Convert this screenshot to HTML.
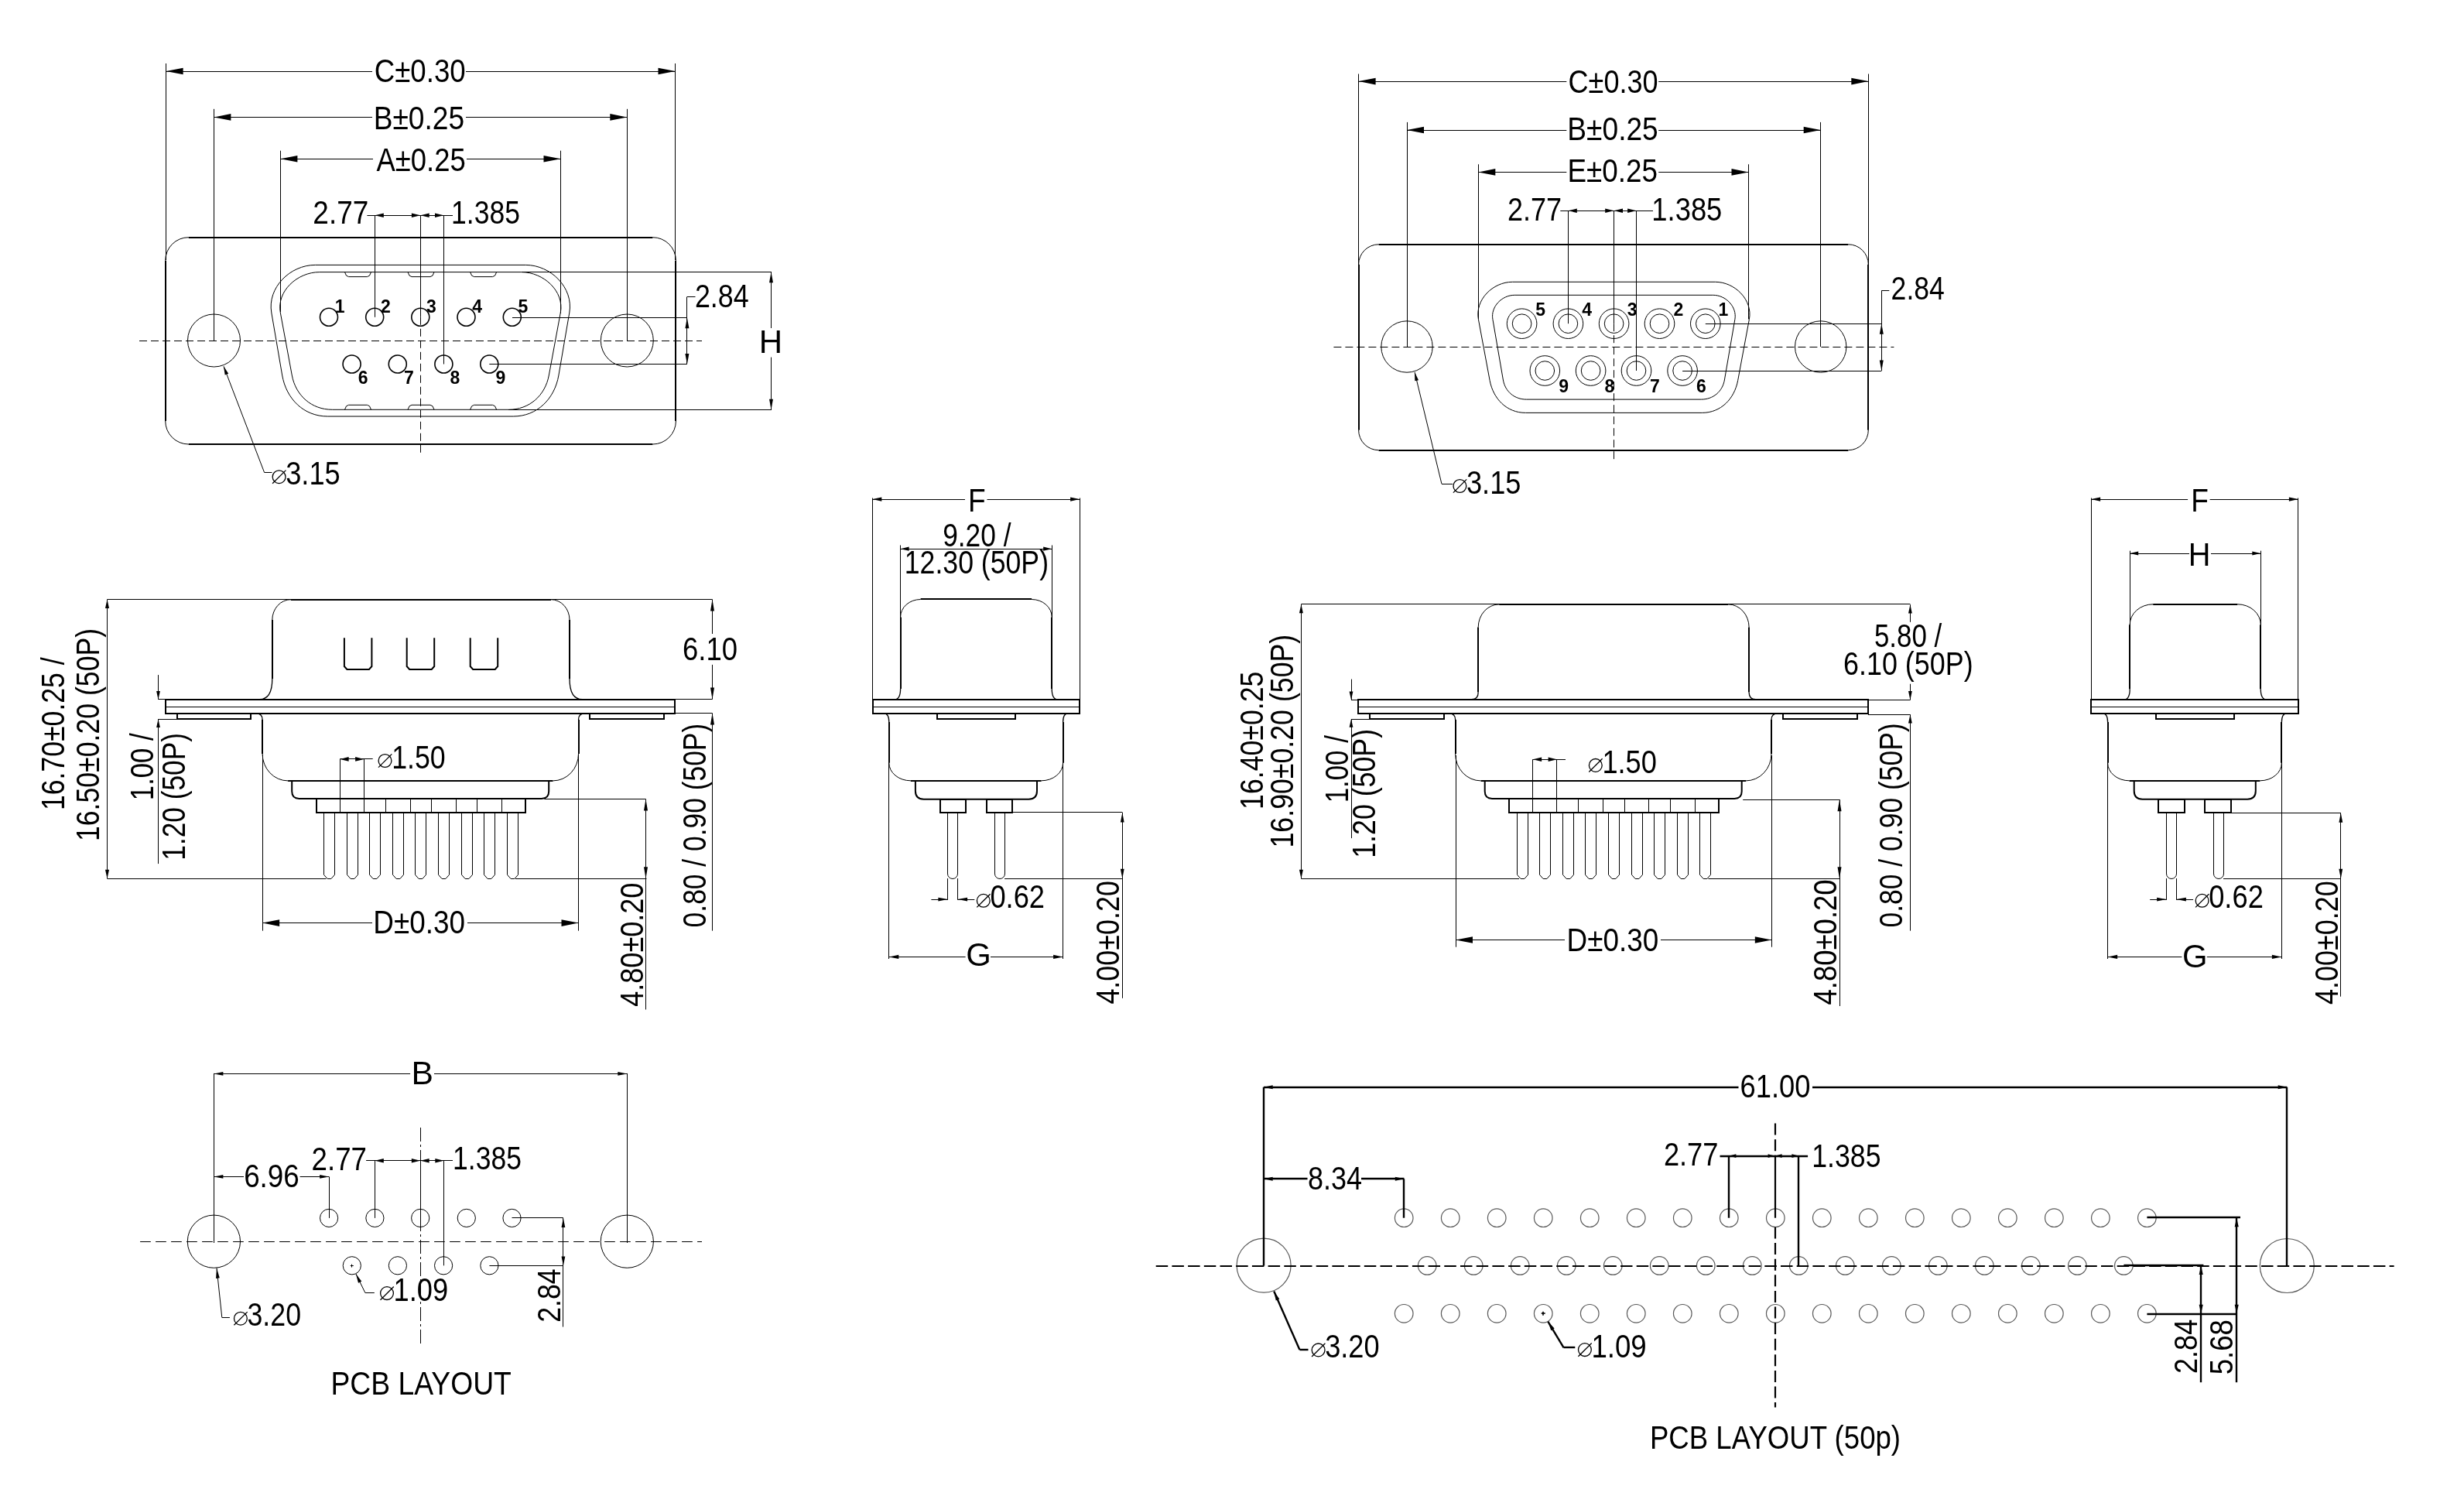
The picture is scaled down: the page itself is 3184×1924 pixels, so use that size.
<!DOCTYPE html><html><head><meta charset="utf-8"><style>html,body{margin:0;padding:0;background:#fff;}svg{display:block;will-change:transform;} text{font-family:"Liberation Sans",sans-serif;fill:#000;}</style></head><body><svg width="3184" height="1924" viewBox="0 0 3184 1924"><rect width="3184" height="1924" fill="#fff"/><line x1="214.5" y1="82" x2="214.5" y2="336" stroke="#000" stroke-width="1.0"/>
<line x1="872.5" y1="82" x2="872.5" y2="336" stroke="#000" stroke-width="1.0"/>
<line x1="214.6" y1="92.5" x2="481" y2="92.5" stroke="#000" stroke-width="1.0"/>
<line x1="602" y1="92.5" x2="872.5" y2="92.5" stroke="#000" stroke-width="1.0"/>
<path d="M214.6 92 L236.6 87.7 L236.6 96.3 Z" fill="#000"/>
<path d="M872.5 92 L850.5 96.3 L850.5 87.7 Z" fill="#000"/>
<text x="483.84" y="105.5" font-size="42" textLength="117.79" lengthAdjust="spacingAndGlyphs">C±0.30</text>
<line x1="276.5" y1="140.8" x2="276.5" y2="440" stroke="#000" stroke-width="1.0"/>
<line x1="810.5" y1="140.8" x2="810.5" y2="440" stroke="#000" stroke-width="1.0"/>
<line x1="276.4" y1="151.5" x2="481" y2="151.5" stroke="#000" stroke-width="1.0"/>
<line x1="602" y1="151.5" x2="810.3" y2="151.5" stroke="#000" stroke-width="1.0"/>
<path d="M276.4 151.4 L298.4 147.1 L298.4 155.7 Z" fill="#000"/>
<path d="M810.3 151.4 L788.3 155.7 L788.3 147.1 Z" fill="#000"/>
<text x="482.65" y="166.5" font-size="42" textLength="117.51" lengthAdjust="spacingAndGlyphs">B±0.25</text>
<line x1="362.5" y1="194.7" x2="362.5" y2="403" stroke="#000" stroke-width="1.0"/>
<line x1="724.5" y1="194.7" x2="724.5" y2="405" stroke="#000" stroke-width="1.0"/>
<line x1="362.4" y1="205.5" x2="482" y2="205.5" stroke="#000" stroke-width="1.0"/>
<line x1="603" y1="205.5" x2="724.5" y2="205.5" stroke="#000" stroke-width="1.0"/>
<path d="M362.4 205.3 L384.4 201 L384.4 209.6 Z" fill="#000"/>
<path d="M724.5 205.3 L702.5 209.6 L702.5 201 Z" fill="#000"/>
<text x="486.53" y="220.9" font-size="42" textLength="115.2" lengthAdjust="spacingAndGlyphs">A±0.25</text>
<text x="404.34" y="288.9" font-size="42" textLength="71.92" lengthAdjust="spacingAndGlyphs">2.77</text>
<text x="583.09" y="288.8" font-size="42" textLength="88.9" lengthAdjust="spacingAndGlyphs">1.385</text>
<line x1="474.4" y1="278.5" x2="585" y2="278.5" stroke="#000" stroke-width="1.0"/>
<line x1="484.5" y1="278.3" x2="484.5" y2="409.8" stroke="#000" stroke-width="1.0"/>
<line x1="543.5" y1="278.3" x2="543.5" y2="409.8" stroke="#000" stroke-width="1.0"/>
<line x1="573.5" y1="278.3" x2="573.5" y2="470.5" stroke="#000" stroke-width="1.0"/>
<path d="M484.4 278.3 L495.8 275.6 L495.8 281 Z" fill="#000"/>
<path d="M543.3 278.3 L531.9 281 L531.9 275.6 Z" fill="#000"/>
<path d="M543.3 278.3 L554.7 275.6 L554.7 281 Z" fill="#000"/>
<path d="M573.4 278.3 L562 281 L562 275.6 Z" fill="#000"/>
<line x1="243.7" y1="307" x2="843.4" y2="307" stroke="#000" stroke-width="2.0"/>
<line x1="243.7" y1="574" x2="843.4" y2="574" stroke="#000" stroke-width="2.0"/>
<line x1="214" y1="336.7" x2="214" y2="544" stroke="#000" stroke-width="2.0"/>
<line x1="873" y1="336.7" x2="873" y2="544" stroke="#000" stroke-width="2.0"/>
<path d="M213.7 336.7 A30 30 0 0 1 243.7 306.7" fill="none" stroke="#000" stroke-width="1.0"/>
<path d="M843.4 306.7 A30 30 0 0 1 873.4 336.7" fill="none" stroke="#000" stroke-width="1.0"/>
<path d="M873.4 544 A30 30 0 0 1 843.4 574" fill="none" stroke="#000" stroke-width="1.0"/>
<path d="M243.7 574 A30 30 0 0 1 213.7 544" fill="none" stroke="#000" stroke-width="1.0"/>
<circle cx="276.5" cy="440" r="34" fill="none" stroke="#000" stroke-width="1.0"/>
<circle cx="810.3" cy="440" r="34" fill="none" stroke="#000" stroke-width="1.0"/>
<line x1="180" y1="440.5" x2="907" y2="440.5" stroke="#000" stroke-width="1.0" stroke-dasharray="10 5"/>
<line x1="543.5" y1="409.8" x2="543.5" y2="588" stroke="#000" stroke-width="1.0" stroke-dasharray="10 5"/>
<path d="M407.3 342.4 L679.3 342.4 C711.9 342.4 741.31 371.87 735.8 404 L721.9 485 C716.69 515.37 694.11 538 663.3 538 L423.3 538 C392.49 538 369.91 515.37 364.7 485 L350.8 404 C345.29 371.87 374.7 342.4 407.3 342.4 Z" fill="none" stroke="#000" stroke-width="1.0"/>
<path d="M412.8 351.6 L673.8 351.6 C702.18 351.6 729.47 376.09 724.3 404 L709.3 485 C704.45 511.2 683.94 529.3 657.3 529.3 L429.3 529.3 C402.66 529.3 382.15 511.2 377.3 485 L362.3 404 C357.13 376.09 384.42 351.6 412.8 351.6 Z" fill="none" stroke="#000" stroke-width="1.0"/>
<path d="M445.5 351.6 Q447 357.6 450.5 357.6 L474.5 357.6 Q478 357.6 479.5 351.6" fill="none" stroke="#000" stroke-width="1.0"/>
<path d="M445.5 529.3 Q447 523.3 450.5 523.3 L474.5 523.3 Q478 523.3 479.5 529.3" fill="none" stroke="#000" stroke-width="1.0"/>
<path d="M527 351.6 Q528.5 357.6 532 357.6 L556 357.6 Q559.5 357.6 561 351.6" fill="none" stroke="#000" stroke-width="1.0"/>
<path d="M527 529.3 Q528.5 523.3 532 523.3 L556 523.3 Q559.5 523.3 561 529.3" fill="none" stroke="#000" stroke-width="1.0"/>
<path d="M607.6 351.6 Q609.1 357.6 612.6 357.6 L636.6 357.6 Q640.1 357.6 641.6 351.6" fill="none" stroke="#000" stroke-width="1.0"/>
<path d="M607.6 529.3 Q609.1 523.3 612.6 523.3 L636.6 523.3 Q640.1 523.3 641.6 529.3" fill="none" stroke="#000" stroke-width="1.0"/>
<circle cx="425" cy="409.8" r="11.5" fill="none" stroke="#000" stroke-width="1.6"/>
<text x="439.2" y="404" font-size="23" font-weight="bold" text-anchor="middle">1</text>
<circle cx="484.2" cy="409.8" r="11.5" fill="none" stroke="#000" stroke-width="1.6"/>
<text x="498.4" y="404" font-size="23" font-weight="bold" text-anchor="middle">2</text>
<circle cx="543.3" cy="409.8" r="11.5" fill="none" stroke="#000" stroke-width="1.6"/>
<text x="557.5" y="404" font-size="23" font-weight="bold" text-anchor="middle">3</text>
<circle cx="602.5" cy="409.8" r="11.5" fill="none" stroke="#000" stroke-width="1.6"/>
<text x="616.7" y="404" font-size="23" font-weight="bold" text-anchor="middle">4</text>
<circle cx="661.8" cy="409.8" r="11.5" fill="none" stroke="#000" stroke-width="1.6"/>
<text x="676" y="404" font-size="23" font-weight="bold" text-anchor="middle">5</text>
<circle cx="454.6" cy="470.5" r="11.5" fill="none" stroke="#000" stroke-width="1.6"/>
<text x="469.2" y="495.6" font-size="23" font-weight="bold" text-anchor="middle">6</text>
<circle cx="513.8" cy="470.5" r="11.5" fill="none" stroke="#000" stroke-width="1.6"/>
<text x="528.4" y="495.6" font-size="23" font-weight="bold" text-anchor="middle">7</text>
<circle cx="573.4" cy="470.5" r="11.5" fill="none" stroke="#000" stroke-width="1.6"/>
<text x="588" y="495.6" font-size="23" font-weight="bold" text-anchor="middle">8</text>
<circle cx="632.3" cy="470.5" r="11.5" fill="none" stroke="#000" stroke-width="1.6"/>
<text x="646.9" y="495.6" font-size="23" font-weight="bold" text-anchor="middle">9</text>
<line x1="674" y1="351.5" x2="997" y2="351.5" stroke="#000" stroke-width="1.0"/>
<line x1="657" y1="529.5" x2="997" y2="529.5" stroke="#000" stroke-width="1.0"/>
<line x1="996.5" y1="351.6" x2="996.5" y2="424" stroke="#000" stroke-width="1.0"/>
<line x1="996.5" y1="461.6" x2="996.5" y2="529.3" stroke="#000" stroke-width="1.0"/>
<path d="M996.5 351.6 L999 365.2 L994 365.2 Z" fill="#000"/>
<path d="M996.5 529.3 L994 515.7 L999 515.7 Z" fill="#000"/>
<text x="980.85" y="455.7" font-size="42" textLength="30.38" lengthAdjust="spacingAndGlyphs">H</text>
<line x1="662" y1="410.5" x2="887.9" y2="410.5" stroke="#000" stroke-width="1.0"/>
<line x1="632.3" y1="470.5" x2="887.9" y2="470.5" stroke="#000" stroke-width="1.0"/>
<line x1="887.5" y1="383.5" x2="887.5" y2="470.5" stroke="#000" stroke-width="1.0"/>
<line x1="887.9" y1="383.5" x2="898.5" y2="383.5" stroke="#000" stroke-width="1.0"/>
<path d="M887.9 410.6 L890.4 424.2 L885.4 424.2 Z" fill="#000"/>
<path d="M887.9 470.5 L885.4 456.9 L890.4 456.9 Z" fill="#000"/>
<text x="897.9" y="397" font-size="42" textLength="69.75" lengthAdjust="spacingAndGlyphs">2.84</text>
<line x1="289" y1="473.3" x2="341.5" y2="610.3" stroke="#000" stroke-width="1.0"/>
<line x1="341.5" y1="610.5" x2="351.5" y2="610.5" stroke="#000" stroke-width="1.0"/>
<path d="M289 473.3 L295.18 482.71 L290.7 484.43 Z" fill="#000"/>
<circle cx="360.6" cy="616.2" r="8.4" fill="none" stroke="#000" stroke-width="1.3"/>
<line x1="352.1" y1="624.8" x2="369.4" y2="607.6" stroke="#000" stroke-width="1.3"/>
<text x="369.2" y="625.8" font-size="42" textLength="70.53" lengthAdjust="spacingAndGlyphs">3.15</text>
<line x1="1755.5" y1="95.5" x2="1755.5" y2="345" stroke="#000" stroke-width="1.0"/>
<line x1="2414.5" y1="95.5" x2="2414.5" y2="345" stroke="#000" stroke-width="1.0"/>
<line x1="1755.6" y1="105.5" x2="2024.3" y2="105.5" stroke="#000" stroke-width="1.0"/>
<line x1="2143.2" y1="105.5" x2="2414.3" y2="105.5" stroke="#000" stroke-width="1.0"/>
<path d="M1755.6 105.1 L1777.6 100.8 L1777.6 109.4 Z" fill="#000"/>
<path d="M2414.3 105.1 L2392.3 109.4 L2392.3 100.8 Z" fill="#000"/>
<text x="2026.57" y="119.6" font-size="42" textLength="116.04" lengthAdjust="spacingAndGlyphs">C±0.30</text>
<line x1="1818.5" y1="157.9" x2="1818.5" y2="448" stroke="#000" stroke-width="1.0"/>
<line x1="2352.5" y1="157.9" x2="2352.5" y2="448" stroke="#000" stroke-width="1.0"/>
<line x1="1818" y1="168.5" x2="2024.3" y2="168.5" stroke="#000" stroke-width="1.0"/>
<line x1="2143.2" y1="168.5" x2="2352.7" y2="168.5" stroke="#000" stroke-width="1.0"/>
<path d="M1818 168 L1840 163.7 L1840 172.3 Z" fill="#000"/>
<path d="M2352.7 168 L2330.7 172.3 L2330.7 163.7 Z" fill="#000"/>
<text x="2025.35" y="180.9" font-size="42" textLength="117.4" lengthAdjust="spacingAndGlyphs">B±0.25</text>
<line x1="1910.5" y1="212.3" x2="1910.5" y2="412.5" stroke="#000" stroke-width="1.0"/>
<line x1="2259.5" y1="212.3" x2="2259.5" y2="412.5" stroke="#000" stroke-width="1.0"/>
<line x1="1910.3" y1="222.5" x2="2024.3" y2="222.5" stroke="#000" stroke-width="1.0"/>
<line x1="2143.2" y1="222.5" x2="2259.5" y2="222.5" stroke="#000" stroke-width="1.0"/>
<path d="M1910.3 222.4 L1932.3 218.1 L1932.3 226.7 Z" fill="#000"/>
<path d="M2259.5 222.4 L2237.5 226.7 L2237.5 218.1 Z" fill="#000"/>
<text x="2025.38" y="235.3" font-size="42" textLength="116.57" lengthAdjust="spacingAndGlyphs">E±0.25</text>
<text x="1947.99" y="284.8" font-size="42" textLength="70.12" lengthAdjust="spacingAndGlyphs">2.77</text>
<text x="2134.33" y="284.8" font-size="42" textLength="91" lengthAdjust="spacingAndGlyphs">1.385</text>
<line x1="2016.3" y1="272.5" x2="2136" y2="272.5" stroke="#000" stroke-width="1.0"/>
<line x1="2026.5" y1="272.3" x2="2026.5" y2="418.2" stroke="#000" stroke-width="1.0"/>
<line x1="2085.5" y1="272.3" x2="2085.5" y2="418.2" stroke="#000" stroke-width="1.0"/>
<line x1="2114.5" y1="272.3" x2="2114.5" y2="479" stroke="#000" stroke-width="1.0"/>
<path d="M2026.4 272.3 L2037.8 269.6 L2037.8 275 Z" fill="#000"/>
<path d="M2085.6 272.3 L2074.2 275 L2074.2 269.6 Z" fill="#000"/>
<path d="M2085.6 272.3 L2097 269.6 L2097 275 Z" fill="#000"/>
<path d="M2114.5 272.3 L2103.1 275 L2103.1 269.6 Z" fill="#000"/>
<line x1="1781.6" y1="316" x2="2388.3" y2="316" stroke="#000" stroke-width="2.0"/>
<line x1="1781.6" y1="582" x2="2388.3" y2="582" stroke="#000" stroke-width="2.0"/>
<line x1="1756" y1="341.8" x2="1756" y2="555.7" stroke="#000" stroke-width="2.0"/>
<line x1="2414" y1="341.8" x2="2414" y2="555.7" stroke="#000" stroke-width="2.0"/>
<path d="M1755.6 341.8 A26 26 0 0 1 1781.6 315.8" fill="none" stroke="#000" stroke-width="1.0"/>
<path d="M2388.3 315.8 A26 26 0 0 1 2414.3 341.8" fill="none" stroke="#000" stroke-width="1.0"/>
<path d="M2414.3 555.7 A26 26 0 0 1 2388.3 581.7" fill="none" stroke="#000" stroke-width="1.0"/>
<path d="M1781.6 581.7 A26 26 0 0 1 1755.6 555.7" fill="none" stroke="#000" stroke-width="1.0"/>
<circle cx="1818" cy="448" r="33.2" fill="none" stroke="#000" stroke-width="1.0"/>
<circle cx="2352.7" cy="448" r="33.2" fill="none" stroke="#000" stroke-width="1.0"/>
<line x1="1723.4" y1="448.5" x2="2447.4" y2="448.5" stroke="#000" stroke-width="1.0" stroke-dasharray="10 5"/>
<line x1="2085.5" y1="418.2" x2="2085.5" y2="595.8" stroke="#000" stroke-width="1.0" stroke-dasharray="10 5"/>
<path d="M1954.4 364.3 L2216.4 364.3 C2241.85 364.3 2265.06 387.48 2260.4 412.5 L2245.7 491.5 C2241.24 515.44 2223.75 533.4 2199.4 533.4 L1971.4 533.4 C1947.05 533.4 1929.56 515.44 1925.1 491.5 L1910.4 412.5 C1905.74 387.48 1928.95 364.3 1954.4 364.3 Z" fill="none" stroke="#000" stroke-width="1.0"/>
<path d="M1957.2 381.3 L2213.6 381.3 C2230.03 381.3 2244.68 396.31 2241.9 412.5 L2228.4 491 C2225.81 506.03 2213.65 516.1 2198.4 516.1 L1972.4 516.1 C1957.15 516.1 1944.99 506.03 1942.4 491 L1928.9 412.5 C1926.12 396.31 1940.77 381.3 1957.2 381.3 Z" fill="none" stroke="#000" stroke-width="1.0"/>
<circle cx="1966.6" cy="418.2" r="19.3" fill="none" stroke="#000" stroke-width="1.0"/>
<circle cx="1966.6" cy="418.2" r="12.3" fill="none" stroke="#000" stroke-width="1.0"/>
<text x="1990.6" y="408.4" font-size="23" font-weight="bold" text-anchor="middle">5</text>
<circle cx="2026.4" cy="418.2" r="19.3" fill="none" stroke="#000" stroke-width="1.0"/>
<circle cx="2026.4" cy="418.2" r="12.3" fill="none" stroke="#000" stroke-width="1.0"/>
<text x="2050.7" y="408.4" font-size="23" font-weight="bold" text-anchor="middle">4</text>
<circle cx="2085.6" cy="418.2" r="19.3" fill="none" stroke="#000" stroke-width="1.0"/>
<circle cx="2085.6" cy="418.2" r="12.3" fill="none" stroke="#000" stroke-width="1.0"/>
<text x="2109.2" y="408.4" font-size="23" font-weight="bold" text-anchor="middle">3</text>
<circle cx="2144.5" cy="418.2" r="19.3" fill="none" stroke="#000" stroke-width="1.0"/>
<circle cx="2144.5" cy="418.2" r="12.3" fill="none" stroke="#000" stroke-width="1.0"/>
<text x="2168.9" y="408.4" font-size="23" font-weight="bold" text-anchor="middle">2</text>
<circle cx="2203.8" cy="418.2" r="19.3" fill="none" stroke="#000" stroke-width="1.0"/>
<circle cx="2203.8" cy="418.2" r="12.3" fill="none" stroke="#000" stroke-width="1.0"/>
<text x="2226.9" y="408.4" font-size="23" font-weight="bold" text-anchor="middle">1</text>
<circle cx="1996.3" cy="479" r="19.3" fill="none" stroke="#000" stroke-width="1.0"/>
<circle cx="1996.3" cy="479" r="12.3" fill="none" stroke="#000" stroke-width="1.0"/>
<text x="2020.7" y="507.1" font-size="23" font-weight="bold" text-anchor="middle">9</text>
<circle cx="2055.6" cy="479" r="19.3" fill="none" stroke="#000" stroke-width="1.0"/>
<circle cx="2055.6" cy="479" r="12.3" fill="none" stroke="#000" stroke-width="1.0"/>
<text x="2079.9" y="507.1" font-size="23" font-weight="bold" text-anchor="middle">8</text>
<circle cx="2114.5" cy="479" r="19.3" fill="none" stroke="#000" stroke-width="1.0"/>
<circle cx="2114.5" cy="479" r="12.3" fill="none" stroke="#000" stroke-width="1.0"/>
<text x="2138.4" y="507.1" font-size="23" font-weight="bold" text-anchor="middle">7</text>
<circle cx="2174.1" cy="479" r="19.3" fill="none" stroke="#000" stroke-width="1.0"/>
<circle cx="2174.1" cy="479" r="12.3" fill="none" stroke="#000" stroke-width="1.0"/>
<text x="2198.4" y="507.1" font-size="23" font-weight="bold" text-anchor="middle">6</text>
<line x1="2203.8" y1="418.5" x2="2431.3" y2="418.5" stroke="#000" stroke-width="1.0"/>
<line x1="2174.1" y1="479.5" x2="2431.3" y2="479.5" stroke="#000" stroke-width="1.0"/>
<line x1="2431.5" y1="375.5" x2="2431.5" y2="479" stroke="#000" stroke-width="1.0"/>
<line x1="2431.3" y1="375.5" x2="2441.3" y2="375.5" stroke="#000" stroke-width="1.0"/>
<path d="M2431.3 418.2 L2433.8 431.8 L2428.8 431.8 Z" fill="#000"/>
<path d="M2431.3 479 L2428.8 465.4 L2433.8 465.4 Z" fill="#000"/>
<text x="2443.61" y="387.2" font-size="42" textLength="69.23" lengthAdjust="spacingAndGlyphs">2.84</text>
<line x1="1828.1" y1="481" x2="1862.9" y2="625" stroke="#000" stroke-width="1.0"/>
<line x1="1862.9" y1="625.5" x2="1877.3" y2="625.5" stroke="#000" stroke-width="1.0"/>
<path d="M1828.1 481 L1833.02 491.13 L1828.35 492.26 Z" fill="#000"/>
<circle cx="1886.4" cy="628" r="8.4" fill="none" stroke="#000" stroke-width="1.3"/>
<line x1="1877.9" y1="636.6" x2="1895.2" y2="619.4" stroke="#000" stroke-width="1.3"/>
<text x="1895" y="637.6" font-size="42" textLength="70.42" lengthAdjust="spacingAndGlyphs">3.15</text>
<rect x="214" y="904" width="658" height="18" fill="none" stroke="#000" stroke-width="2.0"/>
<line x1="213.8" y1="913.5" x2="872.5" y2="913.5" stroke="#000" stroke-width="1.0"/>
<rect x="229" y="922" width="95" height="7" fill="none" stroke="#000" stroke-width="2.0"/>
<rect x="762" y="922" width="96" height="7" fill="none" stroke="#000" stroke-width="2.0"/>
<line x1="375.8" y1="775" x2="712" y2="775" stroke="#000" stroke-width="2.0"/>
<line x1="352" y1="801.1" x2="352" y2="877" stroke="#000" stroke-width="2.0"/>
<line x1="736" y1="801.1" x2="736" y2="877" stroke="#000" stroke-width="2.0"/>
<path d="M351.8 801.1 A24 26.4 0 0 1 375.8 774.7" fill="none" stroke="#000" stroke-width="1.0"/>
<path d="M712 774.7 A24 26.4 0 0 1 736 801.1" fill="none" stroke="#000" stroke-width="1.0"/>
<path d="M351.8 877 Q351.8 903.7 335.3 903.7" fill="none" stroke="#000" stroke-width="1.3"/>
<path d="M736 877 Q736 903.7 752.5 903.7" fill="none" stroke="#000" stroke-width="1.3"/>
<path d="M331.1 921.8 Q339.1 921.8 339.1 930" fill="none" stroke="#000" stroke-width="1.3"/>
<path d="M755.5 921.8 Q747.5 921.8 747.5 930" fill="none" stroke="#000" stroke-width="1.3"/>
<line x1="339" y1="930" x2="339" y2="973.9" stroke="#000" stroke-width="2.0"/>
<line x1="748" y1="930" x2="748" y2="973.9" stroke="#000" stroke-width="2.0"/>
<line x1="372.1" y1="1009" x2="714.5" y2="1009" stroke="#000" stroke-width="2.0"/>
<path d="M339.1 973.9 A33 35 0 0 0 372.1 1008.9" fill="none" stroke="#000" stroke-width="1.0"/>
<path d="M714.5 1008.9 A33 35 0 0 0 747.5 973.9" fill="none" stroke="#000" stroke-width="1.0"/>
<path d="M377.2 1008.9 L377.2 1022.5 Q377.2 1031.9 386.6 1031.9 L699.8 1031.9 Q709.2 1031.9 709.2 1022.5 L709.2 1008.9" fill="none" stroke="#000" stroke-width="2.0"/>
<rect x="409" y="1032" width="270" height="18" fill="none" stroke="#000" stroke-width="2.0"/>
<line x1="498.5" y1="1031.9" x2="498.5" y2="1050.1" stroke="#000" stroke-width="1.0"/>
<line x1="530.5" y1="1031.9" x2="530.5" y2="1050.1" stroke="#000" stroke-width="1.0"/>
<line x1="557.5" y1="1031.9" x2="557.5" y2="1050.1" stroke="#000" stroke-width="1.0"/>
<line x1="589.5" y1="1031.9" x2="589.5" y2="1050.1" stroke="#000" stroke-width="1.0"/>
<line x1="616.5" y1="1031.9" x2="616.5" y2="1050.1" stroke="#000" stroke-width="1.0"/>
<line x1="648.5" y1="1031.9" x2="648.5" y2="1050.1" stroke="#000" stroke-width="1.0"/>
<path d="M418.5 1050.1 L418.5 1130.3 L423.1 1135.5 L427.9 1135.5 L432.5 1130.3 L432.5 1050.1" fill="none" stroke="#000" stroke-width="1.0"/>
<path d="M448.5 1050.1 L448.5 1130.3 L453.1 1135.5 L457.9 1135.5 L462.5 1130.3 L462.5 1050.1" fill="none" stroke="#000" stroke-width="1.0"/>
<path d="M477.5 1050.1 L477.5 1130.3 L482.1 1135.5 L486.9 1135.5 L491.5 1130.3 L491.5 1050.1" fill="none" stroke="#000" stroke-width="1.0"/>
<path d="M507.5 1050.1 L507.5 1130.3 L512.1 1135.5 L516.9 1135.5 L521.5 1130.3 L521.5 1050.1" fill="none" stroke="#000" stroke-width="1.0"/>
<path d="M536.5 1050.1 L536.5 1130.3 L541.1 1135.5 L545.9 1135.5 L550.5 1130.3 L550.5 1050.1" fill="none" stroke="#000" stroke-width="1.0"/>
<path d="M566.5 1050.1 L566.5 1130.3 L571.1 1135.5 L575.9 1135.5 L580.5 1130.3 L580.5 1050.1" fill="none" stroke="#000" stroke-width="1.0"/>
<path d="M596.5 1050.1 L596.5 1130.3 L601.1 1135.5 L605.9 1135.5 L610.5 1130.3 L610.5 1050.1" fill="none" stroke="#000" stroke-width="1.0"/>
<path d="M625.5 1050.1 L625.5 1130.3 L630.1 1135.5 L634.9 1135.5 L639.5 1130.3 L639.5 1050.1" fill="none" stroke="#000" stroke-width="1.0"/>
<path d="M655.5 1050.1 L655.5 1130.3 L660.1 1135.5 L664.9 1135.5 L669.5 1130.3 L669.5 1050.1" fill="none" stroke="#000" stroke-width="1.0"/>
<path d="M444.9 824.2 L444.9 861 L448.4 865 L476.9 865 L480.4 861 L480.4 824.2" fill="none" stroke="#000" stroke-width="2.0"/>
<path d="M525.7 824.2 L525.7 861 L529.2 865 L557.7 865 L561.2 861 L561.2 824.2" fill="none" stroke="#000" stroke-width="2.0"/>
<path d="M607.7 824.2 L607.7 861 L611.2 865 L639.7 865 L643.2 861 L643.2 824.2" fill="none" stroke="#000" stroke-width="2.0"/>
<line x1="138.5" y1="774.5" x2="920.5" y2="774.5" stroke="#000" stroke-width="1.0"/>
<line x1="138.5" y1="774.6" x2="138.5" y2="1135.2" stroke="#000" stroke-width="1.0"/>
<path d="M138.5 774.6 L141 786 L136 786 Z" fill="#000"/>
<path d="M138.5 1135.2 L136 1123.8 L141 1123.8 Z" fill="#000"/>
<line x1="138.5" y1="1135.5" x2="421.5" y2="1135.5" stroke="#000" stroke-width="1.0"/>
<line x1="666" y1="1135.5" x2="835.5" y2="1135.5" stroke="#000" stroke-width="1.0"/>
<text transform="translate(83 1044.4) rotate(-90)" x="-2.71" y="0" font-size="42" textLength="197.81" lengthAdjust="spacingAndGlyphs">16.70±0.25 /</text>
<text transform="translate(128.1 1084.4) rotate(-90)" x="-2.72" y="0" font-size="42" textLength="275.23" lengthAdjust="spacingAndGlyphs">16.50±0.20 (50P)</text>
<line x1="204.5" y1="872.1" x2="204.5" y2="903.7" stroke="#000" stroke-width="1.0"/>
<line x1="204.5" y1="903.5" x2="213.8" y2="903.5" stroke="#000" stroke-width="1.0"/>
<path d="M204.5 903.7 L202.1 893 L206.9 893 Z" fill="#000"/>
<line x1="204.5" y1="929.2" x2="204.5" y2="1116.1" stroke="#000" stroke-width="1.0"/>
<line x1="204.5" y1="929.5" x2="229" y2="929.5" stroke="#000" stroke-width="1.0"/>
<path d="M204.5 929.2 L206.9 939.9 L202.1 939.9 Z" fill="#000"/>
<text transform="translate(198 1031.5) rotate(-90)" x="-2.64" y="0" font-size="42" textLength="86.74" lengthAdjust="spacingAndGlyphs">1.00 /</text>
<text transform="translate(238.6 1109) rotate(-90)" x="-2.69" y="0" font-size="42" textLength="164.67" lengthAdjust="spacingAndGlyphs">1.20 (50P)</text>
<line x1="920.5" y1="774.6" x2="920.5" y2="819" stroke="#000" stroke-width="1.0"/>
<line x1="920.5" y1="858.9" x2="920.5" y2="903.6" stroke="#000" stroke-width="1.0"/>
<path d="M920.5 774.6 L923 789.6 L918 789.6 Z" fill="#000"/>
<path d="M920.5 903.6 L918 888.6 L923 888.6 Z" fill="#000"/>
<line x1="872.5" y1="903.5" x2="920.5" y2="903.5" stroke="#000" stroke-width="1.0"/>
<text x="882.05" y="852.8" font-size="42" textLength="70.98" lengthAdjust="spacingAndGlyphs">6.10</text>
<line x1="872.5" y1="921.5" x2="920.5" y2="921.5" stroke="#000" stroke-width="1.0"/>
<line x1="920.5" y1="921.6" x2="920.5" y2="1202.7" stroke="#000" stroke-width="1.0"/>
<path d="M920.5 921.6 L923 936.6 L918 936.6 Z" fill="#000"/>
<text transform="translate(912 1197) rotate(-90)" x="-1.38" y="0" font-size="42" textLength="263.58" lengthAdjust="spacingAndGlyphs">0.80 / 0.90 (50P)</text>
<line x1="703.4" y1="1032.5" x2="834.5" y2="1032.5" stroke="#000" stroke-width="1.0"/>
<line x1="834.5" y1="1032.5" x2="834.5" y2="1304.5" stroke="#000" stroke-width="1.0"/>
<path d="M834.5 1032.5 L837 1047.5 L832 1047.5 Z" fill="#000"/>
<path d="M834.5 1135.2 L832 1120.2 L837 1120.2 Z" fill="#000"/>
<text transform="translate(831.4 1300) rotate(-90)" x="-0.83" y="0" font-size="42" textLength="160.24" lengthAdjust="spacingAndGlyphs">4.80±0.20</text>
<line x1="339.5" y1="975" x2="339.5" y2="1202.7" stroke="#000" stroke-width="1.0"/>
<line x1="747.5" y1="975" x2="747.5" y2="1202.7" stroke="#000" stroke-width="1.0"/>
<line x1="339.1" y1="1192.5" x2="481" y2="1192.5" stroke="#000" stroke-width="1.0"/>
<line x1="604" y1="1192.5" x2="747.5" y2="1192.5" stroke="#000" stroke-width="1.0"/>
<path d="M339.1 1192.6 L361.1 1188.3 L361.1 1196.9 Z" fill="#000"/>
<path d="M747.5 1192.6 L725.5 1196.9 L725.5 1188.3 Z" fill="#000"/>
<text x="482.27" y="1206.3" font-size="42" textLength="118.67" lengthAdjust="spacingAndGlyphs">D±0.30</text>
<line x1="439.5" y1="980.9" x2="439.5" y2="1050.1" stroke="#000" stroke-width="1.0"/>
<line x1="470.5" y1="980.9" x2="470.5" y2="1050.1" stroke="#000" stroke-width="1.0"/>
<line x1="439.3" y1="980.5" x2="481.7" y2="980.5" stroke="#000" stroke-width="1.0"/>
<path d="M439.3 980.9 L450.6 978.1 L450.6 983.7 Z" fill="#000"/>
<path d="M470.4 980.9 L459.1 983.7 L459.1 978.1 Z" fill="#000"/>
<circle cx="497.5" cy="983" r="8.4" fill="none" stroke="#000" stroke-width="1.3"/>
<line x1="489" y1="991.6" x2="506.3" y2="974.4" stroke="#000" stroke-width="1.3"/>
<text x="506.13" y="992.6" font-size="42" textLength="69.57" lengthAdjust="spacingAndGlyphs">1.50</text>
<rect x="1128" y="904" width="267" height="18" fill="none" stroke="#000" stroke-width="2.0"/>
<line x1="1127.6" y1="913.5" x2="1394.8" y2="913.5" stroke="#000" stroke-width="1.0"/>
<rect x="1211" y="922" width="101" height="7" fill="none" stroke="#000" stroke-width="2.0"/>
<line x1="1189.6" y1="774" x2="1333.2" y2="774" stroke="#000" stroke-width="2.0"/>
<line x1="1164" y1="797.38" x2="1164" y2="890" stroke="#000" stroke-width="2.0"/>
<line x1="1359" y1="797.38" x2="1359" y2="890" stroke="#000" stroke-width="2.0"/>
<path d="M1163.6 797.38 A26 22.88 0 0 1 1189.6 774.5" fill="none" stroke="#000" stroke-width="1.0"/>
<path d="M1333.2 774.5 A26 22.88 0 0 1 1359.2 797.38" fill="none" stroke="#000" stroke-width="1.0"/>
<path d="M1163.6 890 Q1163.6 904 1155.6 904" fill="none" stroke="#000" stroke-width="1.3"/>
<path d="M1359.2 890 Q1359.2 904 1367.2 904" fill="none" stroke="#000" stroke-width="1.3"/>
<path d="M1141.8 921.6 Q1148.8 921.6 1148.8 933.1" fill="none" stroke="#000" stroke-width="1.3"/>
<path d="M1380.6 921.6 Q1373.6 921.6 1373.6 933.1" fill="none" stroke="#000" stroke-width="1.3"/>
<line x1="1149" y1="933.1" x2="1149" y2="985.8" stroke="#000" stroke-width="2.0"/>
<line x1="1374" y1="933.1" x2="1374" y2="985.8" stroke="#000" stroke-width="2.0"/>
<line x1="1176.8" y1="1009" x2="1345.6" y2="1009" stroke="#000" stroke-width="2.0"/>
<path d="M1148.8 985.8 A28 23 0 0 0 1176.8 1008.8" fill="none" stroke="#000" stroke-width="1.0"/>
<path d="M1345.6 1008.8 A28 23 0 0 0 1373.6 985.8" fill="none" stroke="#000" stroke-width="1.0"/>
<path d="M1182.9 1008.8 L1182.9 1022 Q1182.9 1032.7 1193.6 1032.7 L1329.3 1032.7 Q1340 1032.7 1340 1022 L1340 1008.8" fill="none" stroke="#000" stroke-width="2.0"/>
<rect x="1215" y="1033" width="33" height="17" fill="none" stroke="#000" stroke-width="2.0"/>
<rect x="1275" y="1033" width="33" height="17" fill="none" stroke="#000" stroke-width="2.0"/>
<path d="M1224.5 1049.9 L1224.5 1129 A6.5 6.5 0 0 0 1237.5 1129 L1237.5 1049.9" fill="none" stroke="#000" stroke-width="1.0"/>
<path d="M1285.5 1049.9 L1285.5 1129 A6.5 6.5 0 0 0 1298.5 1129 L1298.5 1049.9" fill="none" stroke="#000" stroke-width="1.0"/>
<line x1="1127.5" y1="643.5" x2="1127.5" y2="904" stroke="#000" stroke-width="1.0"/>
<line x1="1395.5" y1="643.5" x2="1395.5" y2="904" stroke="#000" stroke-width="1.0"/>
<line x1="1127.3" y1="645.5" x2="1247" y2="645.5" stroke="#000" stroke-width="1.0"/>
<line x1="1275.5" y1="645.5" x2="1395.1" y2="645.5" stroke="#000" stroke-width="1.0"/>
<path d="M1127.3 645.1 L1139.3 642.5 L1139.3 647.7 Z" fill="#000"/>
<path d="M1395.1 645.1 L1383.1 647.7 L1383.1 642.5 Z" fill="#000"/>
<text x="1251.06" y="660.6" font-size="42" textLength="22.62" lengthAdjust="spacingAndGlyphs">F</text>
<line x1="1224.5" y1="1135" x2="1224.5" y2="1162.8" stroke="#000" stroke-width="1.0"/>
<line x1="1237.5" y1="1135" x2="1237.5" y2="1162.8" stroke="#000" stroke-width="1.0"/>
<line x1="1203.4" y1="1162.5" x2="1224.85" y2="1162.5" stroke="#000" stroke-width="1.0"/>
<line x1="1237.55" y1="1162.5" x2="1259.3" y2="1162.5" stroke="#000" stroke-width="1.0"/>
<path d="M1224.85 1162.1 L1212.35 1164.4 L1212.35 1159.8 Z" fill="#000"/>
<path d="M1237.55 1162.1 L1250.05 1159.8 L1250.05 1164.4 Z" fill="#000"/>
<circle cx="1270.8" cy="1163.8" r="8.4" fill="none" stroke="#000" stroke-width="1.3"/>
<line x1="1262.3" y1="1172.4" x2="1279.6" y2="1155.2" stroke="#000" stroke-width="1.3"/>
<text x="1279.39" y="1173.4" font-size="42" textLength="70.63" lengthAdjust="spacingAndGlyphs">0.62</text>
<line x1="1148.5" y1="984" x2="1148.5" y2="1239" stroke="#000" stroke-width="1.0"/>
<line x1="1373.5" y1="984" x2="1373.5" y2="1239" stroke="#000" stroke-width="1.0"/>
<line x1="1148.8" y1="1236.5" x2="1247.6" y2="1236.5" stroke="#000" stroke-width="1.0"/>
<line x1="1280" y1="1236.5" x2="1373.6" y2="1236.5" stroke="#000" stroke-width="1.0"/>
<path d="M1148.8 1236.4 L1161.3 1233.8 L1161.3 1239 Z" fill="#000"/>
<path d="M1373.6 1236.4 L1361.1 1239 L1361.1 1233.8 Z" fill="#000"/>
<text x="1248.3" y="1247.9" font-size="42" textLength="32.53" lengthAdjust="spacingAndGlyphs">G</text>
<line x1="1163.5" y1="704.5" x2="1163.5" y2="800" stroke="#000" stroke-width="1.0"/>
<line x1="1359.5" y1="704.5" x2="1359.5" y2="800" stroke="#000" stroke-width="1.0"/>
<line x1="1163.6" y1="709.5" x2="1359.2" y2="709.5" stroke="#000" stroke-width="1.0"/>
<path d="M1163.6 709.2 L1174.6 706.6 L1174.6 711.8 Z" fill="#000"/>
<path d="M1359.2 709.2 L1348.2 711.8 L1348.2 706.6 Z" fill="#000"/>
<text x="1218.14" y="706.2" font-size="42" textLength="88.36" lengthAdjust="spacingAndGlyphs">9.20 /</text>
<text x="1168.79" y="741.2" font-size="42" textLength="186.22" lengthAdjust="spacingAndGlyphs">12.30 (50P)</text>
<line x1="1308" y1="1049.5" x2="1450.3" y2="1049.5" stroke="#000" stroke-width="1.0"/>
<line x1="1298.1" y1="1135.5" x2="1450.3" y2="1135.5" stroke="#000" stroke-width="1.0"/>
<line x1="1450.5" y1="1049.9" x2="1450.5" y2="1289.8" stroke="#000" stroke-width="1.0"/>
<path d="M1450.3 1049.9 L1452.7 1062.4 L1447.9 1062.4 Z" fill="#000"/>
<path d="M1450.3 1135.3 L1447.9 1122.8 L1452.7 1122.8 Z" fill="#000"/>
<text transform="translate(1446.3 1296.8) rotate(-90)" x="-0.82" y="0" font-size="42" textLength="159.63" lengthAdjust="spacingAndGlyphs">4.00±0.20</text>
<rect x="1755" y="904" width="659" height="18" fill="none" stroke="#000" stroke-width="2.0"/>
<line x1="1755.3" y1="913.5" x2="2414" y2="913.5" stroke="#000" stroke-width="1.0"/>
<rect x="1770" y="922" width="96" height="7" fill="none" stroke="#000" stroke-width="2.0"/>
<rect x="2304" y="922" width="96" height="7" fill="none" stroke="#000" stroke-width="2.0"/>
<line x1="1937.2" y1="781" x2="2233.1" y2="781" stroke="#000" stroke-width="2.0"/>
<line x1="1910" y1="810.6" x2="1910" y2="894.5" stroke="#000" stroke-width="2.0"/>
<line x1="2260" y1="810.6" x2="2260" y2="894.5" stroke="#000" stroke-width="2.0"/>
<path d="M1910.2 810.6 A27 29.7 0 0 1 1937.2 780.9" fill="none" stroke="#000" stroke-width="1.0"/>
<path d="M2233.1 780.9 A27 29.7 0 0 1 2260.1 810.6" fill="none" stroke="#000" stroke-width="1.0"/>
<path d="M1910.2 894.5 Q1910.2 903.7 1901.7 903.7" fill="none" stroke="#000" stroke-width="1.3"/>
<path d="M2260.1 894.5 Q2260.1 903.7 2268.6 903.7" fill="none" stroke="#000" stroke-width="1.3"/>
<path d="M1872.6 921.8 Q1880.6 921.8 1880.6 930" fill="none" stroke="#000" stroke-width="1.3"/>
<path d="M2297 921.8 Q2289 921.8 2289 930" fill="none" stroke="#000" stroke-width="1.3"/>
<line x1="1881" y1="930" x2="1881" y2="973.9" stroke="#000" stroke-width="2.0"/>
<line x1="2289" y1="930" x2="2289" y2="973.9" stroke="#000" stroke-width="2.0"/>
<line x1="1913.6" y1="1009" x2="2256" y2="1009" stroke="#000" stroke-width="2.0"/>
<path d="M1880.6 973.9 A33 35 0 0 0 1913.6 1008.9" fill="none" stroke="#000" stroke-width="1.0"/>
<path d="M2256 1008.9 A33 35 0 0 0 2289 973.9" fill="none" stroke="#000" stroke-width="1.0"/>
<path d="M1918.7 1008.9 L1918.7 1022.5 Q1918.7 1031.9 1928.1 1031.9 L2241.3 1031.9 Q2250.7 1031.9 2250.7 1022.5 L2250.7 1008.9" fill="none" stroke="#000" stroke-width="2.0"/>
<rect x="1950" y="1032" width="271" height="18" fill="none" stroke="#000" stroke-width="2.0"/>
<line x1="2039.5" y1="1031.9" x2="2039.5" y2="1050.1" stroke="#000" stroke-width="1.0"/>
<line x1="2071.5" y1="1031.9" x2="2071.5" y2="1050.1" stroke="#000" stroke-width="1.0"/>
<line x1="2099.5" y1="1031.9" x2="2099.5" y2="1050.1" stroke="#000" stroke-width="1.0"/>
<line x1="2130.5" y1="1031.9" x2="2130.5" y2="1050.1" stroke="#000" stroke-width="1.0"/>
<line x1="2158.5" y1="1031.9" x2="2158.5" y2="1050.1" stroke="#000" stroke-width="1.0"/>
<line x1="2190.5" y1="1031.9" x2="2190.5" y2="1050.1" stroke="#000" stroke-width="1.0"/>
<path d="M1960.5 1050.1 L1960.5 1130.3 L1965.1 1135.5 L1969.9 1135.5 L1974.5 1130.3 L1974.5 1050.1" fill="none" stroke="#000" stroke-width="1.0"/>
<path d="M1989.5 1050.1 L1989.5 1130.3 L1994.1 1135.5 L1998.9 1135.5 L2003.5 1130.3 L2003.5 1050.1" fill="none" stroke="#000" stroke-width="1.0"/>
<path d="M2019.5 1050.1 L2019.5 1130.3 L2024.1 1135.5 L2028.9 1135.5 L2033.5 1130.3 L2033.5 1050.1" fill="none" stroke="#000" stroke-width="1.0"/>
<path d="M2048.5 1050.1 L2048.5 1130.3 L2053.1 1135.5 L2057.9 1135.5 L2062.5 1130.3 L2062.5 1050.1" fill="none" stroke="#000" stroke-width="1.0"/>
<path d="M2078.5 1050.1 L2078.5 1130.3 L2083.1 1135.5 L2087.9 1135.5 L2092.5 1130.3 L2092.5 1050.1" fill="none" stroke="#000" stroke-width="1.0"/>
<path d="M2108.5 1050.1 L2108.5 1130.3 L2113.1 1135.5 L2117.9 1135.5 L2122.5 1130.3 L2122.5 1050.1" fill="none" stroke="#000" stroke-width="1.0"/>
<path d="M2137.5 1050.1 L2137.5 1130.3 L2142.1 1135.5 L2146.9 1135.5 L2151.5 1130.3 L2151.5 1050.1" fill="none" stroke="#000" stroke-width="1.0"/>
<path d="M2167.5 1050.1 L2167.5 1130.3 L2172.1 1135.5 L2176.9 1135.5 L2181.5 1130.3 L2181.5 1050.1" fill="none" stroke="#000" stroke-width="1.0"/>
<path d="M2196.5 1050.1 L2196.5 1130.3 L2201.1 1135.5 L2205.9 1135.5 L2210.5 1130.3 L2210.5 1050.1" fill="none" stroke="#000" stroke-width="1.0"/>
<line x1="1681.4" y1="780.5" x2="2468.4" y2="780.5" stroke="#000" stroke-width="1.0"/>
<line x1="1681.5" y1="780.9" x2="1681.5" y2="1135.2" stroke="#000" stroke-width="1.0"/>
<path d="M1681.4 780.9 L1683.9 792.3 L1678.9 792.3 Z" fill="#000"/>
<path d="M1681.4 1135.2 L1678.9 1123.8 L1683.9 1123.8 Z" fill="#000"/>
<line x1="1681.4" y1="1135.5" x2="1963" y2="1135.5" stroke="#000" stroke-width="1.0"/>
<line x1="2207.5" y1="1135.5" x2="2377" y2="1135.5" stroke="#000" stroke-width="1.0"/>
<text transform="translate(1631.6 1043.2) rotate(-90)" x="-2.72" y="0" font-size="42" textLength="178.32" lengthAdjust="spacingAndGlyphs">16.40±0.25</text>
<text transform="translate(1671 1092.8) rotate(-90)" x="-2.72" y="0" font-size="42" textLength="275.74" lengthAdjust="spacingAndGlyphs">16.90±0.20 (50P)</text>
<line x1="1746.5" y1="877.6" x2="1746.5" y2="904.2" stroke="#000" stroke-width="1.0"/>
<line x1="1746" y1="904.5" x2="1756.8" y2="904.5" stroke="#000" stroke-width="1.0"/>
<path d="M1746 904.2 L1743.6 893.5 L1748.4 893.5 Z" fill="#000"/>
<line x1="1746.5" y1="929.1" x2="1746.5" y2="1083.1" stroke="#000" stroke-width="1.0"/>
<line x1="1746" y1="929.5" x2="1770.9" y2="929.5" stroke="#000" stroke-width="1.0"/>
<path d="M1746 929.1 L1748.4 939.8 L1743.6 939.8 Z" fill="#000"/>
<text transform="translate(1741.8 1034.7) rotate(-90)" x="-2.66" y="0" font-size="42" textLength="87.26" lengthAdjust="spacingAndGlyphs">1.00 /</text>
<text transform="translate(1777.4 1106.1) rotate(-90)" x="-2.72" y="0" font-size="42" textLength="166.94" lengthAdjust="spacingAndGlyphs">1.20 (50P)</text>
<line x1="2468.5" y1="781.3" x2="2468.5" y2="803.8" stroke="#000" stroke-width="1.0"/>
<line x1="2468.5" y1="883.7" x2="2468.5" y2="904.4" stroke="#000" stroke-width="1.0"/>
<path d="M2468.4 781.3 L2470.8 792.6 L2466 792.6 Z" fill="#000"/>
<path d="M2468.4 904.4 L2466 893.1 L2470.8 893.1 Z" fill="#000"/>
<line x1="2413.9" y1="904.5" x2="2468.4" y2="904.5" stroke="#000" stroke-width="1.0"/>
<text x="2421.9" y="835.8" font-size="42" textLength="87.3" lengthAdjust="spacingAndGlyphs">5.80 /</text>
<text x="2381.98" y="871.5" font-size="42" textLength="167.65" lengthAdjust="spacingAndGlyphs">6.10 (50P)</text>
<line x1="2413.9" y1="923.5" x2="2468.4" y2="923.5" stroke="#000" stroke-width="1.0"/>
<line x1="2468.5" y1="923.2" x2="2468.5" y2="1202.7" stroke="#000" stroke-width="1.0"/>
<path d="M2468.4 923.2 L2470.8 934.5 L2466 934.5 Z" fill="#000"/>
<text transform="translate(2457.5 1197.2) rotate(-90)" x="-1.39" y="0" font-size="42" textLength="264.39" lengthAdjust="spacingAndGlyphs">0.80 / 0.90 (50P)</text>
<line x1="2252.2" y1="1033.5" x2="2377" y2="1033.5" stroke="#000" stroke-width="1.0"/>
<line x1="2377.5" y1="1033.2" x2="2377.5" y2="1300" stroke="#000" stroke-width="1.0"/>
<path d="M2377 1033.2 L2379.5 1048.2 L2374.5 1048.2 Z" fill="#000"/>
<path d="M2377 1135.2 L2374.5 1120.2 L2379.5 1120.2 Z" fill="#000"/>
<text transform="translate(2373.3 1297.6) rotate(-90)" x="-0.84" y="0" font-size="42" textLength="162.06" lengthAdjust="spacingAndGlyphs">4.80±0.20</text>
<line x1="1881.5" y1="976" x2="1881.5" y2="1223.7" stroke="#000" stroke-width="1.0"/>
<line x1="2289.5" y1="976" x2="2289.5" y2="1223.7" stroke="#000" stroke-width="1.0"/>
<line x1="1881" y1="1214.5" x2="2022" y2="1214.5" stroke="#000" stroke-width="1.0"/>
<line x1="2146" y1="1214.5" x2="2289.8" y2="1214.5" stroke="#000" stroke-width="1.0"/>
<path d="M1881 1214.5 L1903 1210.2 L1903 1218.8 Z" fill="#000"/>
<path d="M2289.8 1214.5 L2267.8 1218.8 L2267.8 1210.2 Z" fill="#000"/>
<text x="2024.57" y="1229.2" font-size="42" textLength="118.67" lengthAdjust="spacingAndGlyphs">D±0.30</text>
<line x1="1980.5" y1="981.2" x2="1980.5" y2="1050.1" stroke="#000" stroke-width="1.0"/>
<line x1="2011.5" y1="981.2" x2="2011.5" y2="1050.1" stroke="#000" stroke-width="1.0"/>
<line x1="1980.8" y1="981.5" x2="2023" y2="981.5" stroke="#000" stroke-width="1.0"/>
<path d="M1980.8 981.2 L1992.1 978.4 L1992.1 984 Z" fill="#000"/>
<path d="M2011.9 981.2 L2000.6 984 L2000.6 978.4 Z" fill="#000"/>
<circle cx="2061.8" cy="988.9" r="8.4" fill="none" stroke="#000" stroke-width="1.3"/>
<line x1="2053.3" y1="997.5" x2="2070.6" y2="980.3" stroke="#000" stroke-width="1.3"/>
<text x="2070.39" y="998.5" font-size="42" textLength="70.52" lengthAdjust="spacingAndGlyphs">1.50</text>
<rect x="2702" y="904" width="268" height="18" fill="none" stroke="#000" stroke-width="2.0"/>
<line x1="2702.4" y1="913.5" x2="2969.6" y2="913.5" stroke="#000" stroke-width="1.0"/>
<rect x="2786" y="922" width="101" height="7" fill="none" stroke="#000" stroke-width="2.0"/>
<line x1="2782.2" y1="781" x2="2891.3" y2="781" stroke="#000" stroke-width="2.0"/>
<line x1="2752" y1="807.2" x2="2752" y2="890.4" stroke="#000" stroke-width="2.0"/>
<line x1="2921" y1="807.2" x2="2921" y2="890.4" stroke="#000" stroke-width="2.0"/>
<path d="M2752.2 807.2 A30 26.4 0 0 1 2782.2 780.8" fill="none" stroke="#000" stroke-width="1.0"/>
<path d="M2891.3 780.8 A30 26.4 0 0 1 2921.3 807.2" fill="none" stroke="#000" stroke-width="1.0"/>
<path d="M2752.2 890.4 Q2752.2 904 2744.2 904" fill="none" stroke="#000" stroke-width="1.3"/>
<path d="M2921.3 890.4 Q2921.3 904 2929.3 904" fill="none" stroke="#000" stroke-width="1.3"/>
<path d="M2716.6 921.6 Q2723.6 921.6 2723.6 933.1" fill="none" stroke="#000" stroke-width="1.3"/>
<path d="M2955.4 921.6 Q2948.4 921.6 2948.4 933.1" fill="none" stroke="#000" stroke-width="1.3"/>
<line x1="2724" y1="933.1" x2="2724" y2="985.8" stroke="#000" stroke-width="2.0"/>
<line x1="2948" y1="933.1" x2="2948" y2="985.8" stroke="#000" stroke-width="2.0"/>
<line x1="2751.6" y1="1009" x2="2920.4" y2="1009" stroke="#000" stroke-width="2.0"/>
<path d="M2723.6 985.8 A28 23 0 0 0 2751.6 1008.8" fill="none" stroke="#000" stroke-width="1.0"/>
<path d="M2920.4 1008.8 A28 23 0 0 0 2948.4 985.8" fill="none" stroke="#000" stroke-width="1.0"/>
<path d="M2757.7 1008.8 L2757.7 1022 Q2757.7 1032.7 2768.4 1032.7 L2904.1 1032.7 Q2914.8 1032.7 2914.8 1022 L2914.8 1008.8" fill="none" stroke="#000" stroke-width="2.0"/>
<rect x="2789" y="1033" width="34" height="17" fill="none" stroke="#000" stroke-width="2.0"/>
<rect x="2849" y="1033" width="34" height="17" fill="none" stroke="#000" stroke-width="2.0"/>
<path d="M2799.5 1049.9 L2799.5 1129 A6.5 6.5 0 0 0 2812.5 1129 L2812.5 1049.9" fill="none" stroke="#000" stroke-width="1.0"/>
<path d="M2860.5 1049.9 L2860.5 1129 A6.5 6.5 0 0 0 2873.5 1129 L2873.5 1049.9" fill="none" stroke="#000" stroke-width="1.0"/>
<line x1="2702.5" y1="643.5" x2="2702.5" y2="904" stroke="#000" stroke-width="1.0"/>
<line x1="2969.5" y1="643.5" x2="2969.5" y2="904" stroke="#000" stroke-width="1.0"/>
<line x1="2702.1" y1="645.5" x2="2827.1" y2="645.5" stroke="#000" stroke-width="1.0"/>
<line x1="2855.6" y1="645.5" x2="2969.9" y2="645.5" stroke="#000" stroke-width="1.0"/>
<path d="M2702.1 645.1 L2714.1 642.5 L2714.1 647.7 Z" fill="#000"/>
<path d="M2969.9 645.1 L2957.9 647.7 L2957.9 642.5 Z" fill="#000"/>
<text x="2831.16" y="660.6" font-size="42" textLength="22.62" lengthAdjust="spacingAndGlyphs">F</text>
<line x1="2799.5" y1="1135" x2="2799.5" y2="1162.8" stroke="#000" stroke-width="1.0"/>
<line x1="2812.5" y1="1135" x2="2812.5" y2="1162.8" stroke="#000" stroke-width="1.0"/>
<line x1="2778.2" y1="1162.5" x2="2799.65" y2="1162.5" stroke="#000" stroke-width="1.0"/>
<line x1="2812.35" y1="1162.5" x2="2834.1" y2="1162.5" stroke="#000" stroke-width="1.0"/>
<path d="M2799.65 1162.1 L2787.15 1164.4 L2787.15 1159.8 Z" fill="#000"/>
<path d="M2812.35 1162.1 L2824.85 1159.8 L2824.85 1164.4 Z" fill="#000"/>
<circle cx="2845.6" cy="1163.8" r="8.4" fill="none" stroke="#000" stroke-width="1.3"/>
<line x1="2837.1" y1="1172.4" x2="2854.4" y2="1155.2" stroke="#000" stroke-width="1.3"/>
<text x="2854.19" y="1173.4" font-size="42" textLength="70.63" lengthAdjust="spacingAndGlyphs">0.62</text>
<line x1="2723.5" y1="984" x2="2723.5" y2="1239" stroke="#000" stroke-width="1.0"/>
<line x1="2948.5" y1="984" x2="2948.5" y2="1239" stroke="#000" stroke-width="1.0"/>
<line x1="2723.6" y1="1236.5" x2="2819.4" y2="1236.5" stroke="#000" stroke-width="1.0"/>
<line x1="2851.8" y1="1236.5" x2="2948.4" y2="1236.5" stroke="#000" stroke-width="1.0"/>
<path d="M2723.6 1236.4 L2736.1 1233.8 L2736.1 1239 Z" fill="#000"/>
<path d="M2948.4 1236.4 L2935.9 1239 L2935.9 1233.8 Z" fill="#000"/>
<text x="2820.1" y="1250.4" font-size="42" textLength="32.53" lengthAdjust="spacingAndGlyphs">G</text>
<line x1="2752.5" y1="711.7" x2="2752.5" y2="810" stroke="#000" stroke-width="1.0"/>
<line x1="2921.5" y1="711.7" x2="2921.5" y2="810" stroke="#000" stroke-width="1.0"/>
<line x1="2752.2" y1="715.5" x2="2829" y2="715.5" stroke="#000" stroke-width="1.0"/>
<line x1="2857" y1="715.5" x2="2921.3" y2="715.5" stroke="#000" stroke-width="1.0"/>
<path d="M2752.2 715 L2763.2 712.4 L2763.2 717.6 Z" fill="#000"/>
<path d="M2921.3 715 L2910.3 717.6 L2910.3 712.4 Z" fill="#000"/>
<text x="2827.84" y="730.8" font-size="42" textLength="28.7" lengthAdjust="spacingAndGlyphs">H</text>
<line x1="2882.8" y1="1050.5" x2="3024.8" y2="1050.5" stroke="#000" stroke-width="1.0"/>
<line x1="2873" y1="1135.5" x2="3024.8" y2="1135.5" stroke="#000" stroke-width="1.0"/>
<line x1="3024.5" y1="1050.2" x2="3024.5" y2="1287.7" stroke="#000" stroke-width="1.0"/>
<path d="M3024.8 1050.2 L3027.2 1062.7 L3022.4 1062.7 Z" fill="#000"/>
<path d="M3024.8 1135.2 L3022.4 1122.7 L3027.2 1122.7 Z" fill="#000"/>
<text transform="translate(3021 1297.1) rotate(-90)" x="-0.83" y="0" font-size="42" textLength="159.73" lengthAdjust="spacingAndGlyphs">4.00±0.20</text>
<line x1="276.5" y1="1386.9" x2="276.5" y2="1606" stroke="#000" stroke-width="1.0"/>
<line x1="810.5" y1="1386.9" x2="810.5" y2="1606" stroke="#000" stroke-width="1.0"/>
<line x1="276.4" y1="1387.5" x2="530.1" y2="1387.5" stroke="#000" stroke-width="1.0"/>
<line x1="561" y1="1387.5" x2="810.3" y2="1387.5" stroke="#000" stroke-width="1.0"/>
<path d="M276.4 1387.4 L288.4 1385 L288.4 1389.8 Z" fill="#000"/>
<path d="M810.3 1387.4 L798.3 1389.8 L798.3 1385 Z" fill="#000"/>
<text x="531.5" y="1401.2" font-size="42" textLength="28.45" lengthAdjust="spacingAndGlyphs">B</text>
<circle cx="276.4" cy="1604.2" r="34.1" fill="none" stroke="#000" stroke-width="1.0"/>
<circle cx="810.3" cy="1604.2" r="34.1" fill="none" stroke="#000" stroke-width="1.0"/>
<line x1="181.1" y1="1604.5" x2="907" y2="1604.5" stroke="#000" stroke-width="1.0" stroke-dasharray="13.7 6.3"/>
<line x1="543.5" y1="1457" x2="543.5" y2="1740" stroke="#000" stroke-width="1.0" stroke-dasharray="18 4 3 4"/>
<circle cx="425.1" cy="1573.9" r="11.6" fill="none" stroke="#000" stroke-width="1.0"/>
<circle cx="484.4" cy="1573.9" r="11.6" fill="none" stroke="#000" stroke-width="1.0"/>
<circle cx="543.2" cy="1573.9" r="11.6" fill="none" stroke="#000" stroke-width="1.0"/>
<circle cx="602.8" cy="1573.9" r="11.6" fill="none" stroke="#000" stroke-width="1.0"/>
<circle cx="661.5" cy="1573.9" r="11.6" fill="none" stroke="#000" stroke-width="1.0"/>
<circle cx="454.8" cy="1635.3" r="11.6" fill="none" stroke="#000" stroke-width="1.0"/>
<circle cx="513.9" cy="1635.3" r="11.6" fill="none" stroke="#000" stroke-width="1.0"/>
<circle cx="573.1" cy="1635.3" r="11.6" fill="none" stroke="#000" stroke-width="1.0"/>
<circle cx="632.4" cy="1635.3" r="11.6" fill="none" stroke="#000" stroke-width="1.0"/>
<line x1="452.8" y1="1635.5" x2="456.8" y2="1635.5" stroke="#000" stroke-width="1.0"/>
<line x1="454.5" y1="1633.6" x2="454.5" y2="1637.6" stroke="#000" stroke-width="1.0"/>
<line x1="276.4" y1="1520.5" x2="315" y2="1520.5" stroke="#000" stroke-width="1.0"/>
<line x1="387.6" y1="1520.5" x2="425.1" y2="1520.5" stroke="#000" stroke-width="1.0"/>
<line x1="425.5" y1="1520.4" x2="425.5" y2="1573.9" stroke="#000" stroke-width="1.0"/>
<path d="M276.4 1520.4 L288.4 1518 L288.4 1522.8 Z" fill="#000"/>
<path d="M425.1 1520.4 L413.1 1522.8 L413.1 1518 Z" fill="#000"/>
<text x="315.13" y="1534.4" font-size="42" textLength="71.69" lengthAdjust="spacingAndGlyphs">6.96</text>
<text x="402.56" y="1511.5" font-size="42" textLength="71.39" lengthAdjust="spacingAndGlyphs">2.77</text>
<text x="585.1" y="1511.3" font-size="42" textLength="88.79" lengthAdjust="spacingAndGlyphs">1.385</text>
<line x1="473.1" y1="1499.5" x2="585" y2="1499.5" stroke="#000" stroke-width="1.0"/>
<line x1="484.5" y1="1499.8" x2="484.5" y2="1573.9" stroke="#000" stroke-width="1.0"/>
<line x1="543.5" y1="1499.8" x2="543.5" y2="1583" stroke="#000" stroke-width="1.0"/>
<line x1="573.5" y1="1499.8" x2="573.5" y2="1635.3" stroke="#000" stroke-width="1.0"/>
<path d="M484.4 1499.8 L495.8 1497.1 L495.8 1502.5 Z" fill="#000"/>
<path d="M543.2 1499.8 L531.8 1502.5 L531.8 1497.1 Z" fill="#000"/>
<path d="M543.2 1499.8 L554.6 1497.1 L554.6 1502.5 Z" fill="#000"/>
<path d="M573.7 1499.8 L562.3 1502.5 L562.3 1497.1 Z" fill="#000"/>
<line x1="661.5" y1="1573.5" x2="727.9" y2="1573.5" stroke="#000" stroke-width="1.0"/>
<line x1="632.4" y1="1635.5" x2="727.9" y2="1635.5" stroke="#000" stroke-width="1.0"/>
<line x1="727.5" y1="1573.9" x2="727.5" y2="1714.5" stroke="#000" stroke-width="1.0"/>
<path d="M727.9 1573.9 L730.3 1585.9 L725.5 1585.9 Z" fill="#000"/>
<path d="M727.9 1635.6 L725.5 1623.6 L730.3 1623.6 Z" fill="#000"/>
<text transform="translate(724.1 1707) rotate(-90)" x="-1.8" y="0" font-size="42" textLength="69.54" lengthAdjust="spacingAndGlyphs">2.84</text>
<line x1="280" y1="1638.4" x2="286.8" y2="1702.4" stroke="#000" stroke-width="1.0"/>
<line x1="286.8" y1="1702.5" x2="296.9" y2="1702.5" stroke="#000" stroke-width="1.0"/>
<path d="M280 1638.4 L283.79 1651.37 L279.02 1651.88 Z" fill="#000"/>
<circle cx="310.9" cy="1703.7" r="8.4" fill="none" stroke="#000" stroke-width="1.3"/>
<line x1="302.4" y1="1712.3" x2="319.7" y2="1695.1" stroke="#000" stroke-width="1.3"/>
<text x="319.52" y="1713.3" font-size="42" textLength="69.48" lengthAdjust="spacingAndGlyphs">3.20</text>
<line x1="459.9" y1="1645.9" x2="471.8" y2="1670.3" stroke="#000" stroke-width="1.0"/>
<line x1="471.8" y1="1670.5" x2="483.8" y2="1670.5" stroke="#000" stroke-width="1.0"/>
<path d="M459.9 1645.9 L467.32 1655.63 L463 1657.74 Z" fill="#000"/>
<circle cx="500" cy="1671.1" r="8.4" fill="none" stroke="#000" stroke-width="1.3"/>
<line x1="491.5" y1="1679.7" x2="508.8" y2="1662.5" stroke="#000" stroke-width="1.3"/>
<text x="508.59" y="1680.7" font-size="42" textLength="70.53" lengthAdjust="spacingAndGlyphs">1.09</text>
<text x="427.48" y="1801.6" font-size="42" textLength="233.37" lengthAdjust="spacingAndGlyphs">PCB LAYOUT</text>
<circle cx="1814.2" cy="1573.7" r="11.8" fill="none" stroke="#5a5a5a" stroke-width="1.2"/>
<circle cx="1814.2" cy="1697.3" r="11.8" fill="none" stroke="#5a5a5a" stroke-width="1.2"/>
<circle cx="1874.21" cy="1573.7" r="11.8" fill="none" stroke="#5a5a5a" stroke-width="1.2"/>
<circle cx="1874.21" cy="1697.3" r="11.8" fill="none" stroke="#5a5a5a" stroke-width="1.2"/>
<circle cx="1934.22" cy="1573.7" r="11.8" fill="none" stroke="#5a5a5a" stroke-width="1.2"/>
<circle cx="1934.22" cy="1697.3" r="11.8" fill="none" stroke="#5a5a5a" stroke-width="1.2"/>
<circle cx="1994.23" cy="1573.7" r="11.8" fill="none" stroke="#5a5a5a" stroke-width="1.2"/>
<circle cx="1994.23" cy="1697.3" r="11.8" fill="none" stroke="#5a5a5a" stroke-width="1.2"/>
<circle cx="2054.24" cy="1573.7" r="11.8" fill="none" stroke="#5a5a5a" stroke-width="1.2"/>
<circle cx="2054.24" cy="1697.3" r="11.8" fill="none" stroke="#5a5a5a" stroke-width="1.2"/>
<circle cx="2114.25" cy="1573.7" r="11.8" fill="none" stroke="#5a5a5a" stroke-width="1.2"/>
<circle cx="2114.25" cy="1697.3" r="11.8" fill="none" stroke="#5a5a5a" stroke-width="1.2"/>
<circle cx="2174.26" cy="1573.7" r="11.8" fill="none" stroke="#5a5a5a" stroke-width="1.2"/>
<circle cx="2174.26" cy="1697.3" r="11.8" fill="none" stroke="#5a5a5a" stroke-width="1.2"/>
<circle cx="2234.27" cy="1573.7" r="11.8" fill="none" stroke="#5a5a5a" stroke-width="1.2"/>
<circle cx="2234.27" cy="1697.3" r="11.8" fill="none" stroke="#5a5a5a" stroke-width="1.2"/>
<circle cx="2294.28" cy="1573.7" r="11.8" fill="none" stroke="#5a5a5a" stroke-width="1.2"/>
<circle cx="2294.28" cy="1697.3" r="11.8" fill="none" stroke="#5a5a5a" stroke-width="1.2"/>
<circle cx="2354.29" cy="1573.7" r="11.8" fill="none" stroke="#5a5a5a" stroke-width="1.2"/>
<circle cx="2354.29" cy="1697.3" r="11.8" fill="none" stroke="#5a5a5a" stroke-width="1.2"/>
<circle cx="2414.3" cy="1573.7" r="11.8" fill="none" stroke="#5a5a5a" stroke-width="1.2"/>
<circle cx="2414.3" cy="1697.3" r="11.8" fill="none" stroke="#5a5a5a" stroke-width="1.2"/>
<circle cx="2474.31" cy="1573.7" r="11.8" fill="none" stroke="#5a5a5a" stroke-width="1.2"/>
<circle cx="2474.31" cy="1697.3" r="11.8" fill="none" stroke="#5a5a5a" stroke-width="1.2"/>
<circle cx="2534.32" cy="1573.7" r="11.8" fill="none" stroke="#5a5a5a" stroke-width="1.2"/>
<circle cx="2534.32" cy="1697.3" r="11.8" fill="none" stroke="#5a5a5a" stroke-width="1.2"/>
<circle cx="2594.33" cy="1573.7" r="11.8" fill="none" stroke="#5a5a5a" stroke-width="1.2"/>
<circle cx="2594.33" cy="1697.3" r="11.8" fill="none" stroke="#5a5a5a" stroke-width="1.2"/>
<circle cx="2654.34" cy="1573.7" r="11.8" fill="none" stroke="#5a5a5a" stroke-width="1.2"/>
<circle cx="2654.34" cy="1697.3" r="11.8" fill="none" stroke="#5a5a5a" stroke-width="1.2"/>
<circle cx="2714.35" cy="1573.7" r="11.8" fill="none" stroke="#5a5a5a" stroke-width="1.2"/>
<circle cx="2714.35" cy="1697.3" r="11.8" fill="none" stroke="#5a5a5a" stroke-width="1.2"/>
<circle cx="2774.36" cy="1573.7" r="11.8" fill="none" stroke="#5a5a5a" stroke-width="1.2"/>
<circle cx="2774.36" cy="1697.3" r="11.8" fill="none" stroke="#5a5a5a" stroke-width="1.2"/>
<circle cx="1844.2" cy="1635.4" r="11.8" fill="none" stroke="#5a5a5a" stroke-width="1.2"/>
<circle cx="1904.21" cy="1635.4" r="11.8" fill="none" stroke="#5a5a5a" stroke-width="1.2"/>
<circle cx="1964.22" cy="1635.4" r="11.8" fill="none" stroke="#5a5a5a" stroke-width="1.2"/>
<circle cx="2024.23" cy="1635.4" r="11.8" fill="none" stroke="#5a5a5a" stroke-width="1.2"/>
<circle cx="2084.24" cy="1635.4" r="11.8" fill="none" stroke="#5a5a5a" stroke-width="1.2"/>
<circle cx="2144.25" cy="1635.4" r="11.8" fill="none" stroke="#5a5a5a" stroke-width="1.2"/>
<circle cx="2204.26" cy="1635.4" r="11.8" fill="none" stroke="#5a5a5a" stroke-width="1.2"/>
<circle cx="2264.27" cy="1635.4" r="11.8" fill="none" stroke="#5a5a5a" stroke-width="1.2"/>
<circle cx="2324.28" cy="1635.4" r="11.8" fill="none" stroke="#5a5a5a" stroke-width="1.2"/>
<circle cx="2384.29" cy="1635.4" r="11.8" fill="none" stroke="#5a5a5a" stroke-width="1.2"/>
<circle cx="2444.3" cy="1635.4" r="11.8" fill="none" stroke="#5a5a5a" stroke-width="1.2"/>
<circle cx="2504.31" cy="1635.4" r="11.8" fill="none" stroke="#5a5a5a" stroke-width="1.2"/>
<circle cx="2564.32" cy="1635.4" r="11.8" fill="none" stroke="#5a5a5a" stroke-width="1.2"/>
<circle cx="2624.33" cy="1635.4" r="11.8" fill="none" stroke="#5a5a5a" stroke-width="1.2"/>
<circle cx="2684.34" cy="1635.4" r="11.8" fill="none" stroke="#5a5a5a" stroke-width="1.2"/>
<circle cx="2744.35" cy="1635.4" r="11.8" fill="none" stroke="#5a5a5a" stroke-width="1.2"/>
<line x1="1991.73" y1="1697" x2="1996.73" y2="1697" stroke="#000" stroke-width="1.6"/>
<line x1="1994" y1="1694.8" x2="1994" y2="1699.8" stroke="#000" stroke-width="1.6"/>
<circle cx="1633.1" cy="1635.1" r="35" fill="none" stroke="#5a5a5a" stroke-width="1.2"/>
<circle cx="2955.3" cy="1635.5" r="35" fill="none" stroke="#5a5a5a" stroke-width="1.2"/>
<line x1="1493.7" y1="1636" x2="3093.6" y2="1636" stroke="#000" stroke-width="2.2" stroke-dasharray="15.5 5.2"/>
<line x1="2294" y1="1451.6" x2="2294" y2="1493.6" stroke="#000" stroke-width="2.2" stroke-dasharray="15 5.6"/>
<line x1="2294" y1="1493.6" x2="2294" y2="1573.7" stroke="#000" stroke-width="2.2"/>
<line x1="2294" y1="1585.5" x2="2294" y2="1818.4" stroke="#000" stroke-width="2.2" stroke-dasharray="15 5.6"/>
<line x1="1633" y1="1404.7" x2="1633" y2="1635.5" stroke="#000" stroke-width="2.4"/>
<line x1="2955" y1="1404.7" x2="2955" y2="1635.5" stroke="#000" stroke-width="2.4"/>
<line x1="1633.1" y1="1405" x2="2246.5" y2="1405" stroke="#000" stroke-width="2.4"/>
<line x1="2342" y1="1405" x2="2955.3" y2="1405" stroke="#000" stroke-width="2.4"/>
<path d="M1633.1 1404.7 L1644.7 1402.15 L1644.7 1407.25 Z" fill="#000"/>
<path d="M2955.3 1404.7 L2943.7 1407.25 L2943.7 1402.15 Z" fill="#000"/>
<text x="2248.56" y="1417.7" font-size="42" textLength="90.86" lengthAdjust="spacingAndGlyphs">61.00</text>
<line x1="1633.1" y1="1523" x2="1689.5" y2="1523" stroke="#000" stroke-width="2.4"/>
<line x1="1759" y1="1523" x2="1814.4" y2="1523" stroke="#000" stroke-width="2.4"/>
<line x1="1814" y1="1523.3" x2="1814" y2="1573.7" stroke="#000" stroke-width="2.4"/>
<path d="M1633.1 1523.3 L1644.7 1520.75 L1644.7 1525.85 Z" fill="#000"/>
<path d="M1814.4 1523.3 L1802.8 1525.85 L1802.8 1520.75 Z" fill="#000"/>
<text x="1689.93" y="1537.4" font-size="42" textLength="70.12" lengthAdjust="spacingAndGlyphs">8.34</text>
<line x1="2222.5" y1="1494" x2="2336.1" y2="1494" stroke="#000" stroke-width="2.4"/>
<line x1="2234" y1="1493.6" x2="2234" y2="1573.7" stroke="#000" stroke-width="2.4"/>
<line x1="2324" y1="1493.6" x2="2324" y2="1635.4" stroke="#000" stroke-width="2.4"/>
<path d="M2234.4 1493.6 L2243.4 1491.3 L2243.4 1495.9 Z" fill="#000"/>
<path d="M2293.6 1493.6 L2284.6 1495.9 L2284.6 1491.3 Z" fill="#000"/>
<path d="M2293.6 1493.6 L2302.6 1491.3 L2302.6 1495.9 Z" fill="#000"/>
<path d="M2324.4 1493.6 L2315.4 1495.9 L2315.4 1491.3 Z" fill="#000"/>
<text x="2149.88" y="1505.7" font-size="42" textLength="70.55" lengthAdjust="spacingAndGlyphs">2.77</text>
<text x="2341.18" y="1507.9" font-size="42" textLength="89.32" lengthAdjust="spacingAndGlyphs">1.385</text>
<line x1="2774.4" y1="1573" x2="2895" y2="1573" stroke="#000" stroke-width="2.4"/>
<line x1="2774.4" y1="1698" x2="2890.2" y2="1698" stroke="#000" stroke-width="2.4"/>
<line x1="2744.4" y1="1635" x2="2847.4" y2="1635" stroke="#000" stroke-width="2.4"/>
<line x1="2890" y1="1573.2" x2="2890" y2="1786.2" stroke="#000" stroke-width="2.4"/>
<line x1="2844" y1="1635.3" x2="2844" y2="1786.2" stroke="#000" stroke-width="2.4"/>
<path d="M2890.2 1573.7 L2892.75 1585.3 L2887.65 1585.3 Z" fill="#000"/>
<path d="M2890.2 1697.3 L2887.65 1685.7 L2892.75 1685.7 Z" fill="#000"/>
<path d="M2844.2 1635.4 L2846.75 1647 L2841.65 1647 Z" fill="#000"/>
<path d="M2844.2 1697.3 L2841.65 1685.7 L2846.75 1685.7 Z" fill="#000"/>
<text transform="translate(2838.7 1773.1) rotate(-90)" x="-1.81" y="0" font-size="42" textLength="70.07" lengthAdjust="spacingAndGlyphs">2.84</text>
<text transform="translate(2884.9 1774.9) rotate(-90)" x="-1.46" y="0" font-size="42" textLength="71.15" lengthAdjust="spacingAndGlyphs">5.68</text>
<line x1="1646.2" y1="1668.4" x2="1679.4" y2="1743.9" stroke="#000" stroke-width="2.4"/>
<line x1="1679.4" y1="1744" x2="1690.5" y2="1744" stroke="#000" stroke-width="2.4"/>
<path d="M1646.2 1668.4 L1653.32 1678.38 L1648.74 1680.39 Z" fill="#000"/>
<circle cx="1703.6" cy="1744.4" r="8.4" fill="none" stroke="#000" stroke-width="1.3"/>
<line x1="1695.1" y1="1753" x2="1712.4" y2="1735.8" stroke="#000" stroke-width="1.3"/>
<text x="1712.2" y="1754" font-size="42" textLength="70.42" lengthAdjust="spacingAndGlyphs">3.20</text>
<line x1="2000.3" y1="1707.6" x2="2020.6" y2="1741.4" stroke="#000" stroke-width="2.4"/>
<line x1="2020.6" y1="1741" x2="2035.3" y2="1741" stroke="#000" stroke-width="2.4"/>
<path d="M2000.3 1707.6 L2008.62 1716.6 L2004.34 1719.17 Z" fill="#000"/>
<circle cx="2047.9" cy="1744.1" r="8.4" fill="none" stroke="#000" stroke-width="1.3"/>
<line x1="2039.4" y1="1752.7" x2="2056.7" y2="1735.5" stroke="#000" stroke-width="1.3"/>
<text x="2056.46" y="1753.7" font-size="42" textLength="71.27" lengthAdjust="spacingAndGlyphs">1.09</text>
<text x="2131.93" y="1871.6" font-size="42" textLength="324.12" lengthAdjust="spacingAndGlyphs">PCB LAYOUT (50p)</text></svg></body></html>
